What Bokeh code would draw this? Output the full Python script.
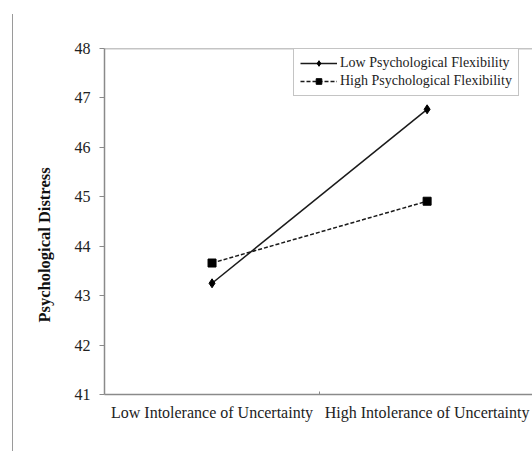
import math
from bokeh.plotting import figure
from bokeh.models import FixedTicker, Legend, LegendItem, Span, Title, Range1d, InlineStyleSheet
from bokeh.embed import file_html
from bokeh.resources import INLINE

categories = ["Low Intolerance of Uncertainty", "High Intolerance of Uncertainty"]
low_flex = [43.25, 46.77]
high_flex = [43.66, 44.91]
series_names = ["Low Psychological Flexibility", "High Psychological Flexibility"]
y_ticks = [41, 42, 43, 44, 45, 46, 47, 48]
y_title = "Psychological Distress"

FONT = "Liberation Serif"
AXIS_GRAY = "#8a8a8a"

xs = [i + 0.5 for i in range(len(categories))]

p = figure(width=532, height=451, output_backend="svg", toolbar_location=None,
           x_range=Range1d(0, 1.99), y_range=Range1d(41, 48),
           min_border_left=104, min_border_right=0, min_border_top=48, min_border_bottom=57)
p.outline_line_color = None
p.xgrid.visible = False
p.ygrid.visible = False

# page border line on the far left of the original figure
p.stylesheets = [InlineStyleSheet(css=(
    ":host { position: relative; }"
    ":host::after { content: ''; position: absolute; left: 12px; top: 14px; "
    "height: 437px; border-left: 1.5px solid #9a9a9a; pointer-events: none; }"))]

# top frame line
p.add_layout(Span(location=48, dimension="width", line_color=AXIS_GRAY, line_width=1.5))

r1 = p.line(xs, low_flex, line_color="#1a1a1a", line_width=1.5)
m1 = p.scatter(xs, low_flex, marker="diamond", size=9, fill_color="black", line_color="black")
r2 = p.line(xs, high_flex, line_color="#1a1a1a", line_width=1.5, line_dash="4 2")
m2 = p.scatter(xs, high_flex, marker="square", size=8, fill_color="black", line_color="black")

# x axis
p.xaxis.ticker = FixedTicker(ticks=xs, minor_ticks=[1.0])
p.xaxis.major_label_overrides = {x: c for x, c in zip(xs, categories)}
p.xaxis.major_tick_line_color = None
p.xaxis.minor_tick_line_color = AXIS_GRAY
p.xaxis.minor_tick_in = 3
p.xaxis.minor_tick_out = 0
p.xaxis.axis_line_color = AXIS_GRAY
p.xaxis.axis_line_width = 1.5
p.xaxis.major_label_text_font = FONT
p.xaxis.major_label_text_font_size = "16px"
p.xaxis.major_label_text_color = "#222222"
p.xaxis.major_label_standoff = 3

# y axis
p.yaxis.ticker = FixedTicker(ticks=y_ticks, minor_ticks=[])
p.yaxis.major_tick_line_color = AXIS_GRAY
p.yaxis.major_tick_in = 0
p.yaxis.major_tick_out = 5
p.yaxis.axis_line_color = AXIS_GRAY
p.yaxis.axis_line_width = 1.5
p.yaxis.major_label_text_font = FONT
p.yaxis.major_label_text_font_size = "16px"
p.yaxis.major_label_text_color = "#222222"
p.yaxis.major_label_standoff = 9

ytitle = Title(text=y_title, align="left", offset=72, standoff=36,
               text_font=FONT, text_font_size="16.5px", text_font_style="bold",
               text_color="#111111")
p.add_layout(ytitle, "left")

legend = Legend(items=[LegendItem(label=series_names[0], renderers=[r1, m1]),
                       LegendItem(label=series_names[1], renderers=[r2, m2])],
                location=(189, 298))
legend.border_line_color = AXIS_GRAY
legend.border_line_width = 1.5
legend.label_text_font = FONT
legend.label_text_font_size = "14px"
legend.label_text_color = "#222222"
legend.glyph_width = 37
legend.glyph_height = 14
legend.label_height = 14
legend.label_standoff = 3
legend.spacing = 2
legend.padding = 6
legend.margin = 0
legend.background_fill_alpha = 1
p.add_layout(legend)

open("out.html", "w").write(file_html(p, INLINE))
